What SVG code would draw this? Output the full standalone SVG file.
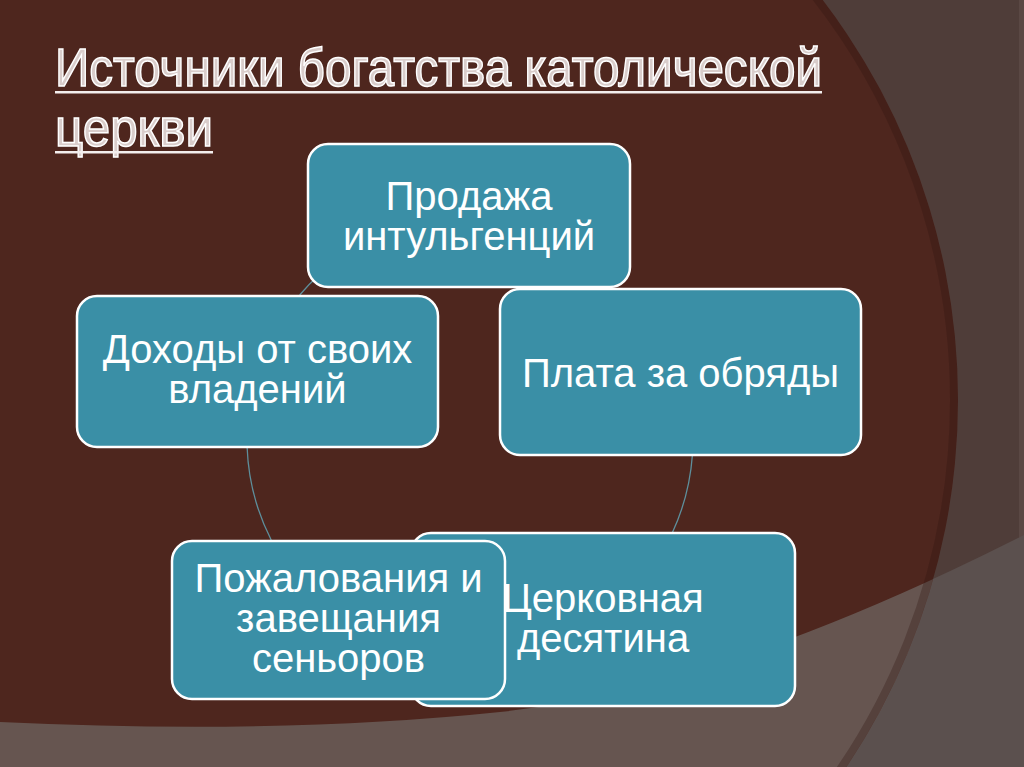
<svg xmlns="http://www.w3.org/2000/svg" width="1024" height="767" viewBox="0 0 1024 767">
  <defs>
    <clipPath id="circ"><circle cx="299" cy="400" r="659"/></clipPath>
    <style>
      .box { fill:#3a8fa6; stroke:#ffffff; stroke-width:2.5; }
      .lbl { font-family:"Liberation Sans", Arial, sans-serif; font-size:40px; fill:#ffffff; text-anchor:middle; }
      .title { font-family:"Liberation Sans Narrow","Liberation Sans",Arial,sans-serif; font-size:54px; fill:#d9cdcb; stroke:#ffffff; stroke-width:1.5; }
      .uline { fill:#f3eeed; }
      .conn { fill:none; stroke:#5e8f9c; stroke-width:1.3; }
    </style>
  </defs>

  <g id="background">
    <rect width="1024" height="767" fill="#4f3d39"/>
    <rect x="1019" y="0" width="5" height="767" fill="#5a4844"/>
    <path d="M0,722 Q280,735 500,712 T1024,535 L1024,767 L0,767 Z" fill="#5b504e"/>
    <circle cx="299" cy="400" r="659" fill="#4e261e"/>
    <path d="M0,722 Q280,735 500,712 T1024,535 L1024,767 L0,767 Z" fill="#665550" clip-path="url(#circ)"/>
    <circle cx="299" cy="400" r="655" fill="none" stroke="#2e1510" stroke-width="8" opacity="0.3" clip-path="url(#circ)"/>
  </g>

  <g id="title">
    <text class="title" x="55" y="86" textLength="767" lengthAdjust="spacingAndGlyphs">Источники богатства католической</text>
    <rect class="uline" x="55" y="91" width="767" height="2.5"/>
    <text class="title" x="55" y="146" textLength="158" lengthAdjust="spacingAndGlyphs">церкви</text>
    <rect class="uline" x="55" y="151" width="158" height="2.5"/>
  </g>

  <g id="connectors">
    <path class="conn" d="M320,274 A223,223 0 0,0 299.7,295"/>
    <path class="conn" d="M247.1,447 A223,223 0 0,0 271.2,540"/>
    <path class="conn" d="M692.4,455 A223,223 0 0,1 672.2,533"/>
  </g>

  <g id="node-prodazha">
    <rect class="box" x="308" y="144" width="322" height="143" rx="20"/>
    <text class="lbl" x="469" y="210">Продажа<tspan x="469" dy="40">интульгенций</tspan></text>
  </g>

  <g id="node-plata">
    <rect class="box" x="500" y="289" width="361" height="166" rx="20"/>
    <text class="lbl" x="680.5" y="387">Плата за обряды</text>
  </g>

  <g id="node-desyatina">
    <rect class="box" x="411" y="533" width="384" height="173" rx="20"/>
    <text class="lbl" x="603" y="612">Церковная<tspan x="603" dy="40">десятина</tspan></text>
  </g>

  <g id="node-pozhalovaniya">
    <rect class="box" x="172" y="541" width="333" height="158" rx="20"/>
    <text class="lbl" x="338.5" y="592">Пожалования и<tspan x="338.5" dy="40">завещания</tspan><tspan x="338.5" dy="40">сеньоров</tspan></text>
  </g>

  <g id="node-dohody">
    <rect class="box" x="77" y="296" width="361" height="151" rx="20"/>
    <text class="lbl" x="257.5" y="363">Доходы от своих<tspan x="257.5" dy="40">владений</tspan></text>
  </g>
</svg>
